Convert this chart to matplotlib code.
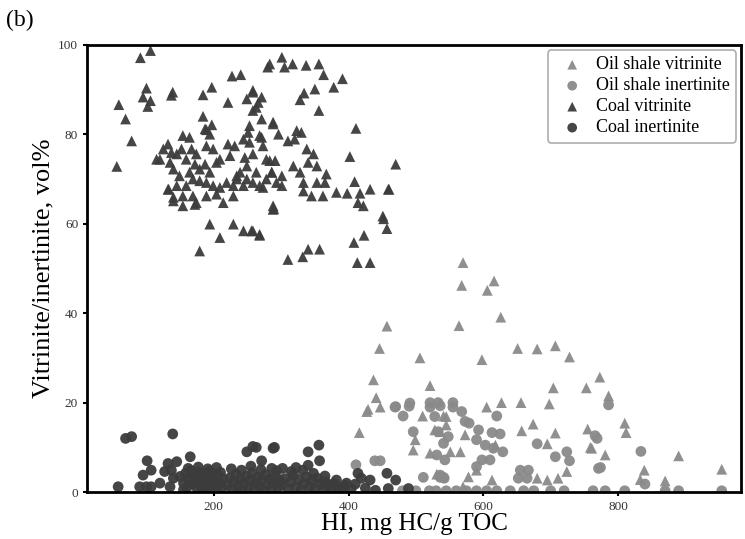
import numpy as np
import matplotlib
matplotlib.use("Agg")
import matplotlib.pyplot as plt

plt.rcParams['font.family'] = ['Liberation Serif', 'DejaVu Serif']

# (HI, vol%) pairs for each maceral group
oil_vit = [(570, 51.3), (568, 46.2), (616, 47.2), (606, 45.1), (626, 39.1), (457, 37.1), (564, 37.2),
           (446, 32.1), (506, 30), (598, 29.6), (651, 32.1), (680, 32), (707, 32.7), (437, 25.1),
           (441, 21.1), (521, 23.8), (704, 23.3), (627, 20), (656, 20), (698, 19.7), (605, 19),
           (447, 19), (429, 18.5), (728, 30.2), (773, 25.7), (753, 23.3), (786, 21.5),
           (674, 15.2), (657, 13.7), (707, 13.2), (755, 14.1), (759, 10), (695, 10.8), (573, 12.8),
           (545, 16.9), (566, 9), (551, 9), (618, 10.5), (590, 4.9), (578, 3.4), (613, 2.7),
           (680, 3.1), (695, 2.7), (711, 3.1), (724, 4.6), (570, 1.2), (810, 15.4), (812, 13.3),
           (781, 8.3), (890, 8.1), (839, 4.9), (954, 5.1), (870, 2.5), (833, 2.8), (761, 9.8),
           (427, 18), (416, 13.3), (510, 17), (541, 17), (545, 15), (499, 11.7), (496, 9.4),
           (536, 13.5), (521, 8.7), (531, 4.0), (528, 13.9)]

oil_ine = [(469, 19), (490, 19.2), (521, 19), (536, 19.3), (555, 19), (568, 18), (786, 19.5),
           (555, 20), (620, 17), (573, 15.8), (579, 15.4), (593, 13.9), (613, 13.3), (625, 13),
           (533, 13.5), (548, 12.4), (541, 10.9), (590, 11.7), (603, 10.5), (615, 9.8), (629, 9),
           (531, 8.3), (543, 7.2), (598, 7.2), (610, 7.2), (590, 5.7), (680, 10.8), (707, 7.9),
           (724, 9), (728, 7), (655, 4.9), (667, 4.9), (652, 3.1), (665, 3.1), (536, 3.8),
           (542, 3.1), (771, 5.3), (769, 12), (521, 20), (533, 20), (528, 16.9), (766, 12.6),
           (834, 9.1), (774, 5.5), (840, 1.8), (470, 19.1), (481, 17), (491, 19.9), (496, 13.5),
           (411, 6.1), (439, 7), (447, 7), (511, 3.3), (536, 3.3), (541, 3.3),
           (480, 0.3), (500, 0.3), (520, 0.3), (530, 0.3), (545, 0.3), (560, 0.3), (575, 0.3),
           (590, 0.3), (605, 0.3), (620, 0.3), (640, 0.3), (660, 0.3), (675, 0.3), (700, 0.3),
           (720, 0.3), (763, 0.3), (781, 0.3), (810, 0.3), (870, 0.3), (890, 0.3), (954, 0.3)]

coal_vit = [(106, 98.7), (91, 97.1), (59, 86.6), (69, 83.4), (78, 78.5), (56, 72.8), (100, 90.3),
            (95, 88.3), (106, 87.5), (102, 86.2), (139, 89.4), (137, 88.7), (197, 90.5), (184, 88.8),
            (221, 87.1), (184, 84), (197, 82.1), (189, 81), (227, 93), (240, 93.3), (283, 95.7),
            (280, 95), (133, 67.7), (140, 65.1), (154, 64), (172, 64.3), (194, 59.9), (209, 56.9),
            (229, 59.9), (244, 58.4), (256, 58.4), (268, 57.6), (179, 53.9), (288, 63.2),
            (301, 97.2), (305, 95), (317, 95.7), (337, 95.4), (356, 95.7), (363, 93.3), (391, 92.4),
            (378, 90.5), (350, 90.1), (334, 89.2), (328, 87.7), (356, 85.3), (411, 81.3), (402, 75),
            (470, 73.3), (409, 69.4), (432, 67.7), (459, 67.7), (382, 67), (398, 66.8), (417, 66.8),
            (414, 64.7), (422, 64), (289, 63.4), (451, 61.7), (258, 89.8), (271, 88.3), (263, 86),
            (271, 83.4), (288, 82.3), (296, 80), (271, 79.3), (273, 77.4), (310, 78.5), (323, 80.8),
            (330, 80.4), (320, 78.9), (338, 76.7), (348, 75.6), (340, 73.7), (353, 72.9), (318, 72.9),
            (328, 71.5), (283, 74.1), (291, 74.1), (286, 71.5), (301, 70.7), (367, 71.1), (365, 69.2),
            (353, 69.2), (333, 69.2), (301, 68.5), (273, 68.1), (345, 66.2), (362, 66.2), (333, 67.3),
            (258, 58.4), (268, 57.4), (310, 52), (332, 52.6), (340, 54.3), (357, 54.3), (408, 55.8),
            (423, 57.4), (452, 61.1), (457, 58.9), (413, 51.3), (432, 51.3), (460, 67.7),
            (125, 76.7), (132, 77.8), (120, 74.4), (115, 74.4), (137, 75.9), (145, 75.6), (154, 79.7),
            (164, 79.3), (152, 76.7), (167, 76.7), (174, 75.6), (159, 74.4), (172, 73.3), (135, 73.7),
            (140, 72.2), (149, 70.7), (164, 71.5), (179, 72.2), (187, 73.3), (194, 71.5), (204, 73.7),
            (209, 74.4), (224, 75.2), (231, 77.4), (221, 77.8), (199, 76.7), (189, 77.4), (194, 80),
            (187, 81.2), (244, 78.9), (251, 80.4), (253, 78.2), (268, 79.7), (246, 74.8), (258, 75.6),
            (249, 72.9), (239, 71.5), (234, 70), (249, 70), (263, 71.5), (278, 74.4), (286, 71.5),
            (268, 68.5), (258, 69.2), (244, 68.5), (229, 68.5), (219, 69.2), (209, 68.1), (199, 68.5),
            (189, 69.2), (179, 69.6), (169, 70), (159, 68.5), (145, 68.5), (132, 67.7), (140, 65.9),
            (154, 66.2), (169, 66.2), (174, 64.7), (189, 66.2), (204, 66.6), (229, 66.2), (214, 64.7),
            (288, 64), (249, 87.9), (258, 89.4), (266, 87.1), (258, 85.3), (253, 81.9), (288, 82.7),
            (234, 70.7), (293, 69.2), (278, 70)]

coal_ine = [(58, 1.2), (69, 12), (78, 12.4), (139, 13), (101, 7), (107, 4.9), (95, 3.8), (90, 1.2),
            (100, 1.2), (107, 1.2), (120, 2), (132, 6.4), (145, 6.8), (137, 4.9), (127, 4.6),
            (140, 3.1), (135, 1.2), (165, 7.9),
            (150, 3.5), (155, 2.0), (158, 4.2), (160, 1.0), (163, 3.0), (166, 4.8), (168, 1.8),
            (170, 2.6), (172, 3.9), (175, 0.9), (176, 2.2), (178, 4.5), (180, 3.3), (182, 1.4),
            (184, 2.8), (185, 4.0), (187, 0.8), (188, 2.0), (190, 3.6), (192, 1.2), (193, 4.6),
            (195, 2.5), (196, 3.3), (198, 0.9), (200, 1.9), (201, 4.1), (203, 2.9), (205, 1.3),
            (206, 3.7), (208, 2.2), (210, 4.4), (212, 1.0), (213, 3.0), (162, 5.3), (177, 5.6),
            (191, 5.2), (204, 5.5), (155, 0.5), (183, 0.6), (199, 2.8),
            (249, 9), (258, 10.2), (263, 10), (290, 10), (271, 7), (241, 4.9), (286, 5.3), (293, 4.8),
            (220, 1.5), (224, 3.2), (227, 0.7), (230, 2.4), (233, 4.0), (236, 1.2), (239, 2.9),
            (242, 0.5), (245, 1.9), (248, 3.6), (251, 1.0), (254, 2.6), (257, 4.3), (260, 0.6),
            (262, 2.0), (265, 3.3), (268, 1.3), (271, 2.7), (274, 0.4), (277, 3.9), (280, 1.7),
            (283, 2.9), (286, 0.8), (289, 2.2), (292, 3.5), (295, 1.1), (298, 2.5), (226, 5.2),
            (255, 5.8), (270, 5.0),
            (288, 9.8), (340, 9), (356, 10.5), (357, 7), (302, 5.3), (315, 4.6), (332, 4.9), (348, 4.2),
            (365, 3.6), (382, 2.7), (397, 2.0), (414, 4.2), (419, 3.1), (432, 2.7), (457, 4.2),
            (470, 2.7), (459, 0.8), (489, 0.8),
            (300, 1.5), (305, 3.0), (310, 0.7), (314, 2.2), (318, 3.8), (322, 1.1), (326, 2.8),
            (330, 0.5), (334, 1.9), (338, 3.4), (342, 1.2), (346, 2.6), (350, 0.6), (354, 3.1),
            (358, 1.8), (362, 0.9), (366, 2.3), (370, 1.4), (374, 0.5), (378, 1.9), (384, 1.1),
            (390, 0.6), (395, 1.5), (404, 0.7), (410, 1.8), (425, 0.9), (440, 0.4), (322, 5.5),
            (340, 6.0)]

series = [
    ('Oil shale vitrinite', oil_vit, '^', '#8a8a8a'),
    ('Oil shale inertinite', oil_ine, 'o', '#8a8a8a'),
    ('Coal vitrinite', coal_vit, '^', '#3c3c3c'),
    ('Coal inertinite', coal_ine, 'o', '#3c3c3c'),
]

fig = plt.figure(figsize=(7.45, 5.39), dpi=100)
ax = fig.add_axes([0.117, 0.087, 0.878, 0.83])

for label, pts, mk, col in series:
    arr = np.array(pts, dtype=float)
    ax.scatter(arr[:, 0], arr[:, 1], marker=mk, s=60, color=col,
               edgecolors='none', alpha=0.95, label=label)

ax.set_xlim(12, 983)
ax.set_ylim(0, 100)
ax.set_xticks([200, 400, 600, 800])
ax.set_yticks([0, 20, 40, 60, 80, 100])

for sp in ax.spines.values():
    sp.set_linewidth(2)
ax.tick_params(direction='out', length=3, width=1.5, labelsize=9.5, colors='black')
for t in ax.get_xticklabels() + ax.get_yticklabels():
    t.set_color('#333333')

ax.set_xlabel('HI, mg HC/g TOC', fontsize=18, labelpad=0)
ax.set_ylabel('Vitrinite/inertinite, vol%', fontsize=19, labelpad=3)

leg = ax.legend(loc='upper right', fontsize=13, frameon=True, fancybox=True,
                handletextpad=0.3, borderpad=0.35, labelspacing=0.22,
                bbox_to_anchor=(1.0, 1.0), borderaxespad=0.3, markerscale=0.9)
leg.get_frame().set_edgecolor('#999999')
leg.get_frame().set_linewidth(1.2)

fig.text(0.008, 0.952, '(b)', fontsize=17)

fig.savefig('out.png', dpi=100)
